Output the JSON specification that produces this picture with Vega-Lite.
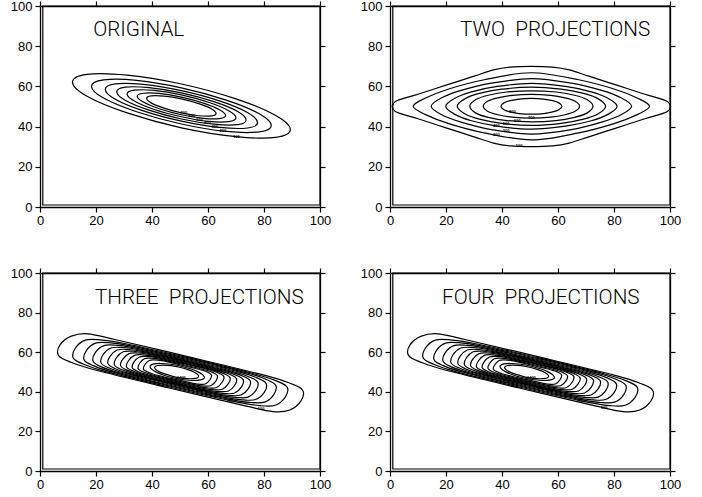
{
"$schema": "https://vega.github.io/schema/vega-lite/v6.json",
"autosize": {"type": "pad"},
"padding": {"left": 10, "top": 0, "right": 5, "bottom": 5},
"background": "white",
"config": {"view": {"stroke": null}, "axis": {"grid": false, "title": null, "domainColor": "black", "tickColor": "black", "labelColor": "black", "labelFont": "Liberation Sans", "labelFontSize": 13, "tickSize": 5, "domainWidth": 1.3, "tickWidth": 1.2, "labelFlush": false, "labelOverlap": false}},
"datasets": {
"c1": [
{"k":0,"i":0,"x":89.4,"y":38.5},{"k":0,"i":1,"x":84.2,"y":45.5},{"k":0,"i":2,"x":70.0,"y":53.8},{"k":0,"i":3,"x":50.5,"y":61.2},{"k":0,"i":4,"x":31.1,"y":65.6},{"k":0,"i":5,"x":16.8,"y":66.0},{"k":0,"i":6,"x":11.6,"y":62.1},{"k":0,"i":7,"x":16.8,"y":55.1},{"k":0,"i":8,"x":31.1,"y":46.8},{"k":0,"i":9,"x":50.5,"y":39.4},{"k":0,"i":10,"x":70.0,"y":35.0},{"k":0,"i":11,"x":84.2,"y":34.6},
{"k":1,"i":0,"x":82.6,"y":40.6},{"k":1,"i":1,"x":78.3,"y":46.4},{"k":1,"i":2,"x":66.5,"y":53.2},{"k":1,"i":3,"x":50.5,"y":59.3},{"k":1,"i":4,"x":34.5,"y":63.0},{"k":1,"i":5,"x":22.7,"y":63.2},{"k":1,"i":6,"x":18.4,"y":60.0},{"k":1,"i":7,"x":22.7,"y":54.2},{"k":1,"i":8,"x":34.5,"y":47.4},{"k":1,"i":9,"x":50.5,"y":41.3},{"k":1,"i":10,"x":66.5,"y":37.6},{"k":1,"i":11,"x":78.3,"y":37.4},
{"k":2,"i":0,"x":77.7,"y":42.0},{"k":2,"i":1,"x":74.1,"y":47.0},{"k":2,"i":2,"x":64.1,"y":52.8},{"k":2,"i":3,"x":50.5,"y":57.9},{"k":2,"i":4,"x":36.9,"y":61.0},{"k":2,"i":5,"x":26.9,"y":61.3},{"k":2,"i":6,"x":23.3,"y":58.6},{"k":2,"i":7,"x":26.9,"y":53.6},{"k":2,"i":8,"x":36.9,"y":47.8},{"k":2,"i":9,"x":50.5,"y":42.7},{"k":2,"i":10,"x":64.1,"y":39.6},{"k":2,"i":11,"x":74.1,"y":39.3},
{"k":3,"i":0,"x":73.6,"y":43.3},{"k":3,"i":1,"x":70.6,"y":47.5},{"k":3,"i":2,"x":62.1,"y":52.4},{"k":3,"i":3,"x":50.5,"y":56.8},{"k":3,"i":4,"x":38.9,"y":59.4},{"k":3,"i":5,"x":30.4,"y":59.6},{"k":3,"i":6,"x":27.4,"y":57.3},{"k":3,"i":7,"x":30.4,"y":53.1},{"k":3,"i":8,"x":38.9,"y":48.2},{"k":3,"i":9,"x":50.5,"y":43.8},{"k":3,"i":10,"x":62.1,"y":41.2},{"k":3,"i":11,"x":70.6,"y":41.0},
{"k":4,"i":0,"x":70.0,"y":44.4},{"k":4,"i":1,"x":67.4,"y":47.9},{"k":4,"i":2,"x":60.2,"y":52.1},{"k":4,"i":3,"x":50.5,"y":55.8},{"k":4,"i":4,"x":40.8,"y":58.0},{"k":4,"i":5,"x":33.7,"y":58.1},{"k":4,"i":6,"x":31.1,"y":56.2},{"k":4,"i":7,"x":33.7,"y":52.7},{"k":4,"i":8,"x":40.8,"y":48.5},{"k":4,"i":9,"x":50.5,"y":44.9},{"k":4,"i":10,"x":60.2,"y":42.6},{"k":4,"i":11,"x":67.4,"y":42.5},
{"k":5,"i":0,"x":66.3,"y":45.5},{"k":5,"i":1,"x":64.1,"y":48.4},{"k":5,"i":2,"x":58.4,"y":51.7},{"k":5,"i":3,"x":50.5,"y":54.7},{"k":5,"i":4,"x":42.6,"y":56.5},{"k":5,"i":5,"x":36.9,"y":56.6},{"k":5,"i":6,"x":34.7,"y":55.1},{"k":5,"i":7,"x":36.9,"y":52.2},{"k":5,"i":8,"x":42.6,"y":48.9},{"k":5,"i":9,"x":50.5,"y":45.9},{"k":5,"i":10,"x":58.4,"y":44.1},{"k":5,"i":11,"x":64.1,"y":44.0},
{"k":6,"i":0,"x":62.9,"y":46.5},{"k":6,"i":1,"x":61.3,"y":48.8},{"k":6,"i":2,"x":56.7,"y":51.4},{"k":6,"i":3,"x":50.5,"y":53.8},{"k":6,"i":4,"x":44.3,"y":55.2},{"k":6,"i":5,"x":39.7,"y":55.3},{"k":6,"i":6,"x":38.1,"y":54.1},{"k":6,"i":7,"x":39.7,"y":51.8},{"k":6,"i":8,"x":44.3,"y":49.2},{"k":6,"i":9,"x":50.5,"y":46.8},{"k":6,"i":10,"x":56.7,"y":45.4},{"k":6,"i":11,"x":61.3,"y":45.3}
],
"c2": [
{"k":0,"i":0,"x":1.8,"y":47.6},{"k":0,"i":1,"x":1.8,"y":52.4},{"k":0,"i":2,"x":10,"y":56.1},{"k":0,"i":3,"x":20,"y":60.6},{"k":0,"i":4,"x":30,"y":65.1},{"k":0,"i":5,"x":37,"y":68.2},{"k":0,"i":6,"x":43,"y":69.6},{"k":0,"i":7,"x":50.5,"y":70.0},{"k":0,"i":8,"x":58,"y":69.6},{"k":0,"i":9,"x":64,"y":68.2},{"k":0,"i":10,"x":71,"y":65.1},{"k":0,"i":11,"x":81,"y":60.6},{"k":0,"i":12,"x":91,"y":56.1},{"k":0,"i":13,"x":99.2,"y":52.4},{"k":0,"i":14,"x":99.2,"y":47.6},{"k":0,"i":15,"x":91,"y":43.9},{"k":0,"i":16,"x":81,"y":39.4},{"k":0,"i":17,"x":71,"y":34.9},{"k":0,"i":18,"x":64,"y":31.8},{"k":0,"i":19,"x":58,"y":30.4},{"k":0,"i":20,"x":50.5,"y":30.0},{"k":0,"i":21,"x":43,"y":30.4},{"k":0,"i":22,"x":37,"y":31.8},{"k":0,"i":23,"x":30,"y":34.9},{"k":0,"i":24,"x":20,"y":39.4},{"k":0,"i":25,"x":10,"y":43.9},
{"k":1,"i":0,"x":92.7,"y":50.1},{"k":1,"i":1,"x":88.5,"y":54.1},{"k":1,"i":2,"x":80.0,"y":58.7},{"k":1,"i":3,"x":67.4,"y":63.3},{"k":1,"i":4,"x":50.5,"y":66.8},{"k":1,"i":5,"x":33.6,"y":63.3},{"k":1,"i":6,"x":21.0,"y":58.7},{"k":1,"i":7,"x":12.5,"y":54.1},{"k":1,"i":8,"x":8.3,"y":50.1},{"k":1,"i":9,"x":12.5,"y":46.1},{"k":1,"i":10,"x":21.0,"y":41.5},{"k":1,"i":11,"x":33.6,"y":36.9},{"k":1,"i":12,"x":50.5,"y":33.4},{"k":1,"i":13,"x":67.4,"y":36.9},{"k":1,"i":14,"x":80.0,"y":41.5},{"k":1,"i":15,"x":88.5,"y":46.1},
{"k":2,"i":0,"x":86.3,"y":50.1},{"k":2,"i":1,"x":82.7,"y":54.2},{"k":2,"i":2,"x":75.6,"y":58.0},{"k":2,"i":3,"x":64.8,"y":61.6},{"k":2,"i":4,"x":50.5,"y":63.9},{"k":2,"i":5,"x":36.2,"y":61.6},{"k":2,"i":6,"x":25.4,"y":58.0},{"k":2,"i":7,"x":18.3,"y":54.2},{"k":2,"i":8,"x":14.7,"y":50.1},{"k":2,"i":9,"x":18.3,"y":46.0},{"k":2,"i":10,"x":25.4,"y":42.2},{"k":2,"i":11,"x":36.2,"y":38.5},{"k":2,"i":12,"x":50.5,"y":36.3},{"k":2,"i":13,"x":64.8,"y":38.5},{"k":2,"i":14,"x":75.6,"y":42.2},{"k":2,"i":15,"x":82.7,"y":46.0},
{"k":3,"i":0,"x":81.1,"y":50.1},{"k":3,"i":1,"x":78.0,"y":54.0},{"k":3,"i":2,"x":71.9,"y":57.3},{"k":3,"i":3,"x":62.7,"y":60.0},{"k":3,"i":4,"x":50.5,"y":61.5},{"k":3,"i":5,"x":38.3,"y":60.0},{"k":3,"i":6,"x":29.1,"y":57.3},{"k":3,"i":7,"x":23.0,"y":54.0},{"k":3,"i":8,"x":19.9,"y":50.1},{"k":3,"i":9,"x":23.0,"y":46.2},{"k":3,"i":10,"x":29.1,"y":42.9},{"k":3,"i":11,"x":38.3,"y":40.2},{"k":3,"i":12,"x":50.5,"y":38.7},{"k":3,"i":13,"x":62.7,"y":40.2},{"k":3,"i":14,"x":71.9,"y":42.9},{"k":3,"i":15,"x":78.0,"y":46.2},
{"k":4,"i":0,"x":77.0,"y":50.1},{"k":4,"i":1,"x":74.4,"y":53.8},{"k":4,"i":2,"x":69.1,"y":56.5},{"k":4,"i":3,"x":61.1,"y":58.6},{"k":4,"i":4,"x":50.5,"y":59.6},{"k":4,"i":5,"x":39.9,"y":58.6},{"k":4,"i":6,"x":31.9,"y":56.5},{"k":4,"i":7,"x":26.7,"y":53.8},{"k":4,"i":8,"x":24.0,"y":50.1},{"k":4,"i":9,"x":26.7,"y":46.4},{"k":4,"i":10,"x":31.9,"y":43.7},{"k":4,"i":11,"x":39.9,"y":41.6},{"k":4,"i":12,"x":50.5,"y":40.6},{"k":4,"i":13,"x":61.1,"y":41.6},{"k":4,"i":14,"x":69.1,"y":43.7},{"k":4,"i":15,"x":74.4,"y":46.4},
{"k":5,"i":0,"x":72.5,"y":50.1},{"k":5,"i":1,"x":70.3,"y":53.5},{"k":5,"i":2,"x":65.9,"y":55.6},{"k":5,"i":3,"x":59.3,"y":57.2},{"k":5,"i":4,"x":50.5,"y":57.8},{"k":5,"i":5,"x":41.7,"y":57.2},{"k":5,"i":6,"x":35.1,"y":55.6},{"k":5,"i":7,"x":30.7,"y":53.5},{"k":5,"i":8,"x":28.5,"y":50.1},{"k":5,"i":9,"x":30.7,"y":46.7},{"k":5,"i":10,"x":35.1,"y":44.6},{"k":5,"i":11,"x":41.7,"y":43.0},{"k":5,"i":12,"x":50.5,"y":42.4},{"k":5,"i":13,"x":59.3,"y":43.0},{"k":5,"i":14,"x":65.9,"y":44.6},{"k":5,"i":15,"x":70.3,"y":46.7},
{"k":6,"i":0,"x":67.7,"y":50.1},{"k":6,"i":1,"x":66.0,"y":52.7},{"k":6,"i":2,"x":62.5,"y":54.3},{"k":6,"i":3,"x":57.4,"y":55.5},{"k":6,"i":4,"x":50.5,"y":56.0},{"k":6,"i":5,"x":43.6,"y":55.5},{"k":6,"i":6,"x":38.5,"y":54.3},{"k":6,"i":7,"x":35.0,"y":52.7},{"k":6,"i":8,"x":33.3,"y":50.1},{"k":6,"i":9,"x":35.0,"y":47.5},{"k":6,"i":10,"x":38.5,"y":45.9},{"k":6,"i":11,"x":43.6,"y":44.7},{"k":6,"i":12,"x":50.5,"y":44.2},{"k":6,"i":13,"x":57.4,"y":44.7},{"k":6,"i":14,"x":62.5,"y":45.9},{"k":6,"i":15,"x":66.0,"y":47.5},
{"k":7,"i":0,"x":61.4,"y":50.1},{"k":7,"i":1,"x":60.3,"y":51.8},{"k":7,"i":2,"x":58.1,"y":52.9},{"k":7,"i":3,"x":54.9,"y":53.7},{"k":7,"i":4,"x":50.5,"y":54.0},{"k":7,"i":5,"x":46.1,"y":53.7},{"k":7,"i":6,"x":42.9,"y":52.9},{"k":7,"i":7,"x":40.7,"y":51.8},{"k":7,"i":8,"x":39.6,"y":50.1},{"k":7,"i":9,"x":40.7,"y":48.4},{"k":7,"i":10,"x":42.9,"y":47.3},{"k":7,"i":11,"x":46.1,"y":46.5},{"k":7,"i":12,"x":50.5,"y":46.2},{"k":7,"i":13,"x":54.9,"y":46.5},{"k":7,"i":14,"x":58.1,"y":47.3},{"k":7,"i":15,"x":60.3,"y":48.4}
],
"c3": [
{"k":0,"i":0,"x":93.2,"y":35.4},{"k":0,"i":1,"x":93.8,"y":40.8},{"k":0,"i":2,"x":89.5,"y":44.2},{"k":0,"i":3,"x":80.4,"y":48.3},{"k":0,"i":4,"x":53.9,"y":57.4},{"k":0,"i":5,"x":27.1,"y":66.3},{"k":0,"i":6,"x":17.1,"y":69.3},{"k":0,"i":7,"x":11.2,"y":68.1},{"k":0,"i":8,"x":7.2,"y":63.8},{"k":0,"i":9,"x":6.6,"y":58.4},{"k":0,"i":10,"x":10.9,"y":55.0},{"k":0,"i":11,"x":20.0,"y":50.9},{"k":0,"i":12,"x":46.5,"y":41.8},{"k":0,"i":13,"x":73.3,"y":32.9},{"k":0,"i":14,"x":83.3,"y":30.0},{"k":0,"i":15,"x":89.2,"y":30.8},
{"k":1,"i":0,"x":87.6,"y":37.3},{"k":1,"i":1,"x":88.3,"y":42.3},{"k":1,"i":2,"x":84.6,"y":45.4},{"k":1,"i":3,"x":76.7,"y":49.0},{"k":1,"i":4,"x":53.6,"y":57.0},{"k":1,"i":5,"x":30.2,"y":64.4},{"k":1,"i":6,"x":21.5,"y":66.2},{"k":1,"i":7,"x":16.2,"y":66.1},{"k":1,"i":8,"x":12.6,"y":62.0},{"k":1,"i":9,"x":11.9,"y":57.0},{"k":1,"i":10,"x":15.6,"y":53.9},{"k":1,"i":11,"x":23.5,"y":50.2},{"k":1,"i":12,"x":46.6,"y":42.3},{"k":1,"i":13,"x":70.0,"y":34.9},{"k":1,"i":14,"x":78.7,"y":33.0},{"k":1,"i":15,"x":84.0,"y":33.2},
{"k":2,"i":0,"x":83.5,"y":38.6},{"k":2,"i":1,"x":84.2,"y":43.3},{"k":2,"i":2,"x":80.9,"y":46.2},{"k":2,"i":3,"x":73.9,"y":49.5},{"k":2,"i":4,"x":53.3,"y":56.6},{"k":2,"i":5,"x":32.4,"y":63.2},{"k":2,"i":6,"x":24.6,"y":64.8},{"k":2,"i":7,"x":19.8,"y":64.6},{"k":2,"i":8,"x":16.5,"y":60.7},{"k":2,"i":9,"x":15.8,"y":56.0},{"k":2,"i":10,"x":19.1,"y":53.2},{"k":2,"i":11,"x":26.1,"y":49.9},{"k":2,"i":12,"x":46.7,"y":42.8},{"k":2,"i":13,"x":67.6,"y":36.2},{"k":2,"i":14,"x":75.4,"y":34.6},{"k":2,"i":15,"x":80.2,"y":34.8},
{"k":3,"i":0,"x":80.1,"y":39.7},{"k":3,"i":1,"x":80.8,"y":44.1},{"k":3,"i":2,"x":77.9,"y":46.8},{"k":3,"i":3,"x":71.6,"y":49.8},{"k":3,"i":4,"x":53.0,"y":56.2},{"k":3,"i":5,"x":34.2,"y":62.1},{"k":3,"i":6,"x":27.1,"y":63.5},{"k":3,"i":7,"x":22.8,"y":63.3},{"k":3,"i":8,"x":19.7,"y":59.7},{"k":3,"i":9,"x":19.0,"y":55.3},{"k":3,"i":10,"x":21.9,"y":52.6},{"k":3,"i":11,"x":28.3,"y":49.6},{"k":3,"i":12,"x":46.8,"y":43.2},{"k":3,"i":13,"x":65.6,"y":37.3},{"k":3,"i":14,"x":72.7,"y":35.9},{"k":3,"i":15,"x":77.0,"y":36.1},
{"k":4,"i":0,"x":77.1,"y":40.7},{"k":4,"i":1,"x":77.8,"y":44.8},{"k":4,"i":2,"x":75.2,"y":47.2},{"k":4,"i":3,"x":69.5,"y":50.0},{"k":4,"i":4,"x":52.7,"y":55.8},{"k":4,"i":5,"x":35.7,"y":61.1},{"k":4,"i":6,"x":29.3,"y":62.4},{"k":4,"i":7,"x":25.3,"y":62.1},{"k":4,"i":8,"x":22.5,"y":58.7},{"k":4,"i":9,"x":21.8,"y":54.6},{"k":4,"i":10,"x":24.4,"y":52.2},{"k":4,"i":11,"x":30.1,"y":49.5},{"k":4,"i":12,"x":46.9,"y":43.7},{"k":4,"i":13,"x":63.9,"y":38.3},{"k":4,"i":14,"x":70.4,"y":37.1},{"k":4,"i":15,"x":74.3,"y":37.3},
{"k":5,"i":0,"x":74.4,"y":41.6},{"k":5,"i":1,"x":75.1,"y":45.5},{"k":5,"i":2,"x":72.8,"y":47.7},{"k":5,"i":3,"x":67.6,"y":50.2},{"k":5,"i":4,"x":52.4,"y":55.5},{"k":5,"i":5,"x":37.0,"y":60.3},{"k":5,"i":6,"x":31.2,"y":61.4},{"k":5,"i":7,"x":27.6,"y":61.1},{"k":5,"i":8,"x":25.0,"y":57.9},{"k":5,"i":9,"x":24.3,"y":54.1},{"k":5,"i":10,"x":26.7,"y":51.8},{"k":5,"i":11,"x":31.8,"y":49.3},{"k":5,"i":12,"x":47.0,"y":44.1},{"k":5,"i":13,"x":62.4,"y":39.2},{"k":5,"i":14,"x":68.2,"y":38.1},{"k":5,"i":15,"x":71.8,"y":38.4},
{"k":6,"i":0,"x":71.9,"y":42.4},{"k":6,"i":1,"x":72.6,"y":46.1},{"k":6,"i":2,"x":70.5,"y":48.1},{"k":6,"i":3,"x":65.8,"y":50.4},{"k":6,"i":4,"x":52.1,"y":55.2},{"k":6,"i":5,"x":38.2,"y":59.5},{"k":6,"i":6,"x":33.0,"y":60.5},{"k":6,"i":7,"x":29.7,"y":60.2},{"k":6,"i":8,"x":27.3,"y":57.2},{"k":6,"i":9,"x":26.6,"y":53.6},{"k":6,"i":10,"x":28.7,"y":51.5},{"k":6,"i":11,"x":33.4,"y":49.2},{"k":6,"i":12,"x":47.1,"y":44.4},{"k":6,"i":13,"x":61.0,"y":40.1},{"k":6,"i":14,"x":66.2,"y":39.1},{"k":6,"i":15,"x":69.5,"y":39.4},
{"k":7,"i":0,"x":69.5,"y":43.2},{"k":7,"i":1,"x":70.2,"y":46.6},{"k":7,"i":2,"x":68.3,"y":48.5},{"k":7,"i":3,"x":64.2,"y":50.6},{"k":7,"i":4,"x":51.9,"y":54.9},{"k":7,"i":5,"x":39.5,"y":58.7},{"k":7,"i":6,"x":34.7,"y":59.6},{"k":7,"i":7,"x":31.8,"y":59.3},{"k":7,"i":8,"x":29.5,"y":56.4},{"k":7,"i":9,"x":28.8,"y":53.1},{"k":7,"i":10,"x":30.7,"y":51.2},{"k":7,"i":11,"x":34.8,"y":49.1},{"k":7,"i":12,"x":47.1,"y":44.8},{"k":7,"i":13,"x":59.5,"y":40.9},{"k":7,"i":14,"x":64.3,"y":40.1},{"k":7,"i":15,"x":67.3,"y":40.4},
{"k":8,"i":0,"x":67.2,"y":44.0},{"k":8,"i":1,"x":67.9,"y":47.1},{"k":8,"i":2,"x":66.2,"y":48.9},{"k":8,"i":3,"x":62.6,"y":50.7},{"k":8,"i":4,"x":51.6,"y":54.5},{"k":8,"i":5,"x":40.5,"y":58.0},{"k":8,"i":6,"x":36.3,"y":58.7},{"k":8,"i":7,"x":33.7,"y":58.4},{"k":8,"i":8,"x":31.6,"y":55.7},{"k":8,"i":9,"x":30.9,"y":52.6},{"k":8,"i":10,"x":32.6,"y":50.9},{"k":8,"i":11,"x":36.3,"y":49.0},{"k":8,"i":12,"x":47.2,"y":45.2},{"k":8,"i":13,"x":58.3,"y":41.7},{"k":8,"i":14,"x":62.5,"y":41.0},{"k":8,"i":15,"x":65.1,"y":41.3},
{"k":9,"i":0,"x":65.0,"y":44.7},{"k":9,"i":1,"x":65.7,"y":47.6},{"k":9,"i":2,"x":64.2,"y":49.2},{"k":9,"i":3,"x":61.0,"y":50.9},{"k":9,"i":4,"x":51.4,"y":54.2},{"k":9,"i":5,"x":41.6,"y":57.3},{"k":9,"i":6,"x":37.8,"y":57.9},{"k":9,"i":7,"x":35.5,"y":57.6},{"k":9,"i":8,"x":33.6,"y":55.1},{"k":9,"i":9,"x":32.9,"y":52.2},{"k":9,"i":10,"x":34.4,"y":50.6},{"k":9,"i":11,"x":37.6,"y":48.9},{"k":9,"i":12,"x":47.3,"y":45.6},{"k":9,"i":13,"x":57.1,"y":42.5},{"k":9,"i":14,"x":60.8,"y":41.9},{"k":9,"i":15,"x":63.1,"y":42.2},
{"k":10,"i":0,"x":62.8,"y":45.4},{"k":10,"i":1,"x":63.4,"y":48.0},{"k":10,"i":2,"x":62.2,"y":49.4},{"k":10,"i":3,"x":59.4,"y":50.9},{"k":10,"i":4,"x":51.1,"y":53.8},{"k":10,"i":5,"x":42.6,"y":56.5},{"k":10,"i":6,"x":39.3,"y":57.0},{"k":10,"i":7,"x":37.3,"y":56.7},{"k":10,"i":8,"x":35.6,"y":54.4},{"k":10,"i":9,"x":35.0,"y":51.8},{"k":10,"i":10,"x":36.2,"y":50.4},{"k":10,"i":11,"x":39.0,"y":49.0},{"k":10,"i":12,"x":47.4,"y":46.0},{"k":10,"i":13,"x":55.9,"y":43.4},{"k":10,"i":14,"x":59.1,"y":42.9},{"k":10,"i":15,"x":61.1,"y":43.2},
{"k":11,"i":0,"x":60.7,"y":46.1},{"k":11,"i":1,"x":61.3,"y":48.4},{"k":11,"i":2,"x":60.2,"y":49.7},{"k":11,"i":3,"x":57.9,"y":50.9},{"k":11,"i":4,"x":50.7,"y":53.4},{"k":11,"i":5,"x":43.5,"y":55.7},{"k":11,"i":6,"x":40.7,"y":56.1},{"k":11,"i":7,"x":39.0,"y":55.8},{"k":11,"i":8,"x":37.5,"y":53.8},{"k":11,"i":9,"x":36.9,"y":51.5},{"k":11,"i":10,"x":38.0,"y":50.3},{"k":11,"i":11,"x":40.3,"y":49.0},{"k":11,"i":12,"x":47.5,"y":46.5},{"k":11,"i":13,"x":54.7,"y":44.3},{"k":11,"i":14,"x":57.5,"y":43.8},{"k":11,"i":15,"x":59.2,"y":44.1},
{"k":12,"i":0,"x":58.6,"y":46.8},{"k":12,"i":1,"x":58.4,"y":48.2},{"k":12,"i":2,"x":56.8,"y":49.8},{"k":12,"i":3,"x":54.0,"y":51.5},{"k":12,"i":4,"x":50.4,"y":52.9},{"k":12,"i":5,"x":46.6,"y":53.9},{"k":12,"i":6,"x":43.2,"y":54.3},{"k":12,"i":7,"x":40.7,"y":54.1},{"k":12,"i":8,"x":39.4,"y":53.2},{"k":12,"i":9,"x":39.6,"y":51.8},{"k":12,"i":10,"x":41.2,"y":50.2},{"k":12,"i":11,"x":44.0,"y":48.5},{"k":12,"i":12,"x":47.6,"y":47.1},{"k":12,"i":13,"x":51.4,"y":46.1},{"k":12,"i":14,"x":54.8,"y":45.7},{"k":12,"i":15,"x":57.3,"y":46.0},
{"k":13,"i":0,"x":56.6,"y":47.5},{"k":13,"i":1,"x":56.4,"y":48.6},{"k":13,"i":2,"x":55.1,"y":49.9},{"k":13,"i":3,"x":52.8,"y":51.2},{"k":13,"i":4,"x":49.9,"y":52.4},{"k":13,"i":5,"x":46.8,"y":53.2},{"k":13,"i":6,"x":44.1,"y":53.5},{"k":13,"i":7,"x":42.0,"y":53.3},{"k":13,"i":8,"x":41.0,"y":52.6},{"k":13,"i":9,"x":41.2,"y":51.5},{"k":13,"i":10,"x":42.5,"y":50.2},{"k":13,"i":11,"x":44.8,"y":48.9},{"k":13,"i":12,"x":47.7,"y":47.7},{"k":13,"i":13,"x":50.8,"y":46.9},{"k":13,"i":14,"x":53.5,"y":46.6},{"k":13,"i":15,"x":55.6,"y":46.8}
],
"l1": [
{"x":70.1,"y":35.0,"t":"100"},{"x":65.3,"y":37.9,"t":"200"},{"x":62.4,"y":40.0,"t":"300"},{"x":59.8,"y":41.7,"t":"400"},{"x":57.0,"y":43.4,"t":"500"},{"x":54.2,"y":45.1,"t":"600"},{"x":51.4,"y":46.6,"t":"700"}
],
"l2": [
{"x":46.1,"y":30.3,"t":"100"},{"x":38.0,"y":36.0,"t":"200"},{"x":41.5,"y":37.7,"t":"300"},{"x":38.0,"y":40.3,"t":"400"},{"x":41.5,"y":41.4,"t":"500"},{"x":45.5,"y":42.7,"t":"600"},{"x":50.5,"y":44.2,"t":"700"},{"x":43.7,"y":47.1,"t":"800"}
],
"l3": [
{"x":79.0,"y":31.2,"t":"100"},{"x":67.7,"y":35.6,"t":"200"},{"x":63.0,"y":37.7,"t":"300"},{"x":60.0,"y":39.1,"t":"400"},{"x":57.0,"y":40.5,"t":"500"},{"x":54.3,"y":41.8,"t":"600"},{"x":51.6,"y":43.0,"t":"700"},{"x":48.9,"y":44.2,"t":"800"},{"x":46.2,"y":45.5,"t":"900"},{"x":50.5,"y":47.0,"t":"1400"}
],
"l4": [
{"x":76.5,"y":32.0,"t":"100"},{"x":67.7,"y":35.6,"t":"200"},{"x":63.0,"y":37.7,"t":"300"},{"x":60.0,"y":39.1,"t":"400"},{"x":57.0,"y":40.5,"t":"500"},{"x":54.3,"y":41.8,"t":"600"},{"x":51.6,"y":43.0,"t":"700"},{"x":48.9,"y":44.2,"t":"800"},{"x":46.2,"y":45.5,"t":"900"},{"x":50.5,"y":47.0,"t":"1400"}
]
},
"columns": 2,
"spacing": {"row": 66, "column": 70},
"bounds": "flush",
"concat": [
{"width": 280, "height": 201, "resolve": {"axis": {"x": "independent", "y": "independent"}}, "layer": [
 {"data": {"name": "c1"}, "mark": {"type": "line", "interpolate": "cardinal-closed", "color": "black", "strokeWidth": 1.2},
  "encoding": {"x": {"field": "x", "type": "quantitative", "scale": {"domain": [0, 100], "nice": false, "zero": false}, "axis": {"orient": "bottom", "values": [0,20,40,60,80,100], "labelPadding": 2}},
   "y": {"field": "y", "type": "quantitative", "scale": {"domain": [0, 100], "nice": false, "zero": false}, "axis": {"orient": "left", "values": [0,20,40,60,80,100], "labelPadding": 3}},
   "detail": {"field": "k"}, "order": {"field": "i"}}},
 {"data": {"values": [{"x": 1, "y": 1, "x2": 100, "y2": 100}]}, "mark": {"type": "rect", "filled": false, "color": "black", "strokeWidth": 1.2},
  "encoding": {"x": {"field": "x", "type": "quantitative", "axis": {"orient": "top", "labels": false, "values": [0,20,40,60,80,100]}}, "x2": {"field": "x2"},
   "y": {"field": "y", "type": "quantitative", "axis": {"orient": "right", "labels": false, "values": [0,20,40,60,80,100]}}, "y2": {"field": "y2"}}},
 {"data": {"name": "l1"}, "mark": {"type": "text", "font": "Liberation Sans", "fontSize": 4, "fontWeight": "bold", "color": "black", "baseline": "middle"},
  "encoding": {"x": {"field": "x", "type": "quantitative", "axis": null}, "y": {"field": "y", "type": "quantitative", "axis": null}, "text": {"field": "t"}}},
 {"data": {"values": [{"t": "ORIGINAL"}]}, "mark": {"type": "text", "align": "left", "baseline": "alphabetic", "font": "Roboto", "fontWeight": 300, "fontSize": 20.7, "color": "black"},
  "encoding": {"x": {"datum": 19, "type": "quantitative", "axis": null}, "y": {"datum": 85.2, "type": "quantitative", "axis": null}, "text": {"field": "t"}}}
]},
{"width": 280, "height": 201, "resolve": {"axis": {"x": "independent", "y": "independent"}}, "layer": [
 {"data": {"name": "c2"}, "mark": {"type": "line", "interpolate": "cardinal-closed", "color": "black", "strokeWidth": 1.2},
  "encoding": {"x": {"field": "x", "type": "quantitative", "scale": {"domain": [0, 100], "nice": false, "zero": false}, "axis": {"orient": "bottom", "values": [0,20,40,60,80,100], "labelPadding": 2}},
   "y": {"field": "y", "type": "quantitative", "scale": {"domain": [0, 100], "nice": false, "zero": false}, "axis": {"orient": "left", "values": [0,20,40,60,80,100], "labelPadding": 3}},
   "detail": {"field": "k"}, "order": {"field": "i"}}},
 {"data": {"values": [{"x": 1, "y": 1, "x2": 100, "y2": 100}]}, "mark": {"type": "rect", "filled": false, "color": "black", "strokeWidth": 1.2},
  "encoding": {"x": {"field": "x", "type": "quantitative", "axis": {"orient": "top", "labels": false, "values": [0,20,40,60,80,100]}}, "x2": {"field": "x2"},
   "y": {"field": "y", "type": "quantitative", "axis": {"orient": "right", "labels": false, "values": [0,20,40,60,80,100]}}, "y2": {"field": "y2"}}},
 {"data": {"name": "l2"}, "mark": {"type": "text", "font": "Liberation Sans", "fontSize": 4, "fontWeight": "bold", "color": "black", "baseline": "middle"},
  "encoding": {"x": {"field": "x", "type": "quantitative", "axis": null}, "y": {"field": "y", "type": "quantitative", "axis": null}, "text": {"field": "t"}}},
 {"data": {"values": [{"t": "TWO\u00a0 PROJECTIONS"}]}, "mark": {"type": "text", "align": "left", "baseline": "alphabetic", "font": "Roboto", "fontWeight": 300, "fontSize": 20.7, "color": "black"},
  "encoding": {"x": {"datum": 25, "type": "quantitative", "axis": null}, "y": {"datum": 85.2, "type": "quantitative", "axis": null}, "text": {"field": "t"}}}
]},
{"width": 280, "height": 198, "resolve": {"axis": {"x": "independent", "y": "independent"}}, "layer": [
 {"data": {"name": "c3"}, "mark": {"type": "line", "interpolate": "cardinal-closed", "color": "black", "strokeWidth": 1.2},
  "encoding": {"x": {"field": "x", "type": "quantitative", "scale": {"domain": [0, 100], "nice": false, "zero": false}, "axis": {"orient": "bottom", "values": [0,20,40,60,80,100], "labelPadding": 2}},
   "y": {"field": "y", "type": "quantitative", "scale": {"domain": [0, 100], "nice": false, "zero": false}, "axis": {"orient": "left", "values": [0,20,40,60,80,100], "labelPadding": 3}},
   "detail": {"field": "k"}, "order": {"field": "i"}}},
 {"data": {"values": [{"x": 1, "y": 1, "x2": 100, "y2": 100}]}, "mark": {"type": "rect", "filled": false, "color": "black", "strokeWidth": 1.2},
  "encoding": {"x": {"field": "x", "type": "quantitative", "axis": {"orient": "top", "labels": false, "values": [0,20,40,60,80,100]}}, "x2": {"field": "x2"},
   "y": {"field": "y", "type": "quantitative", "axis": {"orient": "right", "labels": false, "values": [0,20,40,60,80,100]}}, "y2": {"field": "y2"}}},
 {"data": {"name": "l3"}, "mark": {"type": "text", "font": "Liberation Sans", "fontSize": 4, "fontWeight": "bold", "color": "black", "baseline": "middle"},
  "encoding": {"x": {"field": "x", "type": "quantitative", "axis": null}, "y": {"field": "y", "type": "quantitative", "axis": null}, "text": {"field": "t"}}},
 {"data": {"values": [{"t": "THREE\u00a0 PROJECTIONS"}]}, "mark": {"type": "text", "align": "left", "baseline": "alphabetic", "font": "Roboto", "fontWeight": 300, "fontSize": 20.7, "color": "black"},
  "encoding": {"x": {"datum": 19.6, "type": "quantitative", "axis": null}, "y": {"datum": 84.5, "type": "quantitative", "axis": null}, "text": {"field": "t"}}}
]},
{"width": 280, "height": 198, "resolve": {"axis": {"x": "independent", "y": "independent"}}, "layer": [
 {"data": {"name": "c3"}, "mark": {"type": "line", "interpolate": "cardinal-closed", "color": "black", "strokeWidth": 1.2},
  "encoding": {"x": {"field": "x", "type": "quantitative", "scale": {"domain": [0, 100], "nice": false, "zero": false}, "axis": {"orient": "bottom", "values": [0,20,40,60,80,100], "labelPadding": 2}},
   "y": {"field": "y", "type": "quantitative", "scale": {"domain": [0, 100], "nice": false, "zero": false}, "axis": {"orient": "left", "values": [0,20,40,60,80,100], "labelPadding": 3}},
   "detail": {"field": "k"}, "order": {"field": "i"}}},
 {"data": {"values": [{"x": 1, "y": 1, "x2": 100, "y2": 100}]}, "mark": {"type": "rect", "filled": false, "color": "black", "strokeWidth": 1.2},
  "encoding": {"x": {"field": "x", "type": "quantitative", "axis": {"orient": "top", "labels": false, "values": [0,20,40,60,80,100]}}, "x2": {"field": "x2"},
   "y": {"field": "y", "type": "quantitative", "axis": {"orient": "right", "labels": false, "values": [0,20,40,60,80,100]}}, "y2": {"field": "y2"}}},
 {"data": {"name": "l4"}, "mark": {"type": "text", "font": "Liberation Sans", "fontSize": 4, "fontWeight": "bold", "color": "black", "baseline": "middle"},
  "encoding": {"x": {"field": "x", "type": "quantitative", "axis": null}, "y": {"field": "y", "type": "quantitative", "axis": null}, "text": {"field": "t"}}},
 {"data": {"values": [{"t": "FOUR\u00a0 PROJECTIONS"}]}, "mark": {"type": "text", "align": "left", "baseline": "alphabetic", "font": "Roboto", "fontWeight": 300, "fontSize": 20.7, "color": "black"},
  "encoding": {"x": {"datum": 18.6, "type": "quantitative", "axis": null}, "y": {"datum": 84.5, "type": "quantitative", "axis": null}, "text": {"field": "t"}}}
]}
]
}
